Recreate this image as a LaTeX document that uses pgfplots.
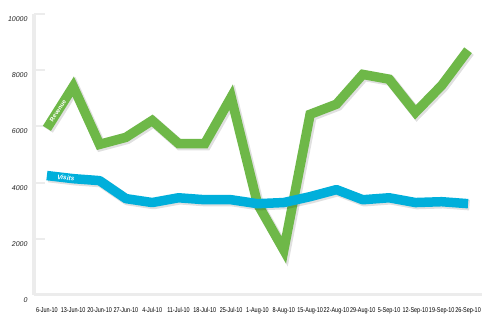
\documentclass[border=0pt]{standalone}
\usepackage{fontspec}
\setmainfont{Liberation Sans}
\newfontfamily\condfont[FakeStretch=0.78]{Liberation Sans}
\usepackage{pgfplots}
\pgfplotsset{compat=1.18}
\definecolor{revgreen}{RGB}{110,184,72}
\definecolor{visblue}{RGB}{0,175,219}
\definecolor{axgray}{RGB}{236,236,236}
\begin{document}
\begin{tikzpicture}
\useasboundingbox (0,0) rectangle (500bp,332bp);
\fill[white] (0,0) rectangle (500bp,332bp);
\begin{axis}[
  at={(34bp,37bp)}, anchor=south west,
  scale only axis, width=448bp, height=281bp,
  xmin=-0.49, xmax=16.53, ymin=0, ymax=10000,
  axis x line=bottom, axis y line=left,
  axis line style={draw=axgray, line width=3bp, -},
  xtick={0,...,16},
  minor xtick={0,...,16},
  xticklabels={6-Jun-10,13-Jun-10,20-Jun-10,27-Jun-10,4-Jul-10,11-Jul-10,18-Jul-10,25-Jul-10,1-Aug-10,8-Aug-10,15-Aug-10,22-Aug-10,29-Aug-10,5-Sep-10,12-Sep-10,19-Sep-10,26-Sep-10},
  ytick={0,2000,4000,6000,8000,10000},
  scaled y ticks=false,
  /pgf/number format/assume math mode=true,
  yticklabel={\pgfmathprintnumber[fixed,1000 sep={}]{\tick}},
  tick align=inside,
  major tick length=11bp,
  minor tick length=7bp,
  xtick style={draw=none},
  ytick style={draw=axgray, line width=2bp},
  minor tick style={draw=axgray, line width=2bp},
  yticklabel style={font=\fontsize{7bp}{8bp}\selectfont\itshape, text=black!85, anchor=east, xshift=-3bp, yshift=-5bp},
  xticklabel style={font=\fontsize{7bp}{8bp}\selectfont\condfont, text=black, anchor=north, yshift=-9bp},
  clip=false,
]
\addplot[draw=revgreen, line width=9.5bp, line join=miter, line cap=butt,
  preaction={draw=black, opacity=0.12, line width=10.5bp, transform canvas={shift={(1.5bp,-1.5bp)}}}]
  coordinates {
  (0,5930) (1,7420) (2,5360) (3,5610) (4,6210) (5,5390) (6,5390) (7,7040)
  (8,3250) (9,1600) (10,6430) (11,6790) (12,7850) (13,7680) (14,6500) (15,7460) (16,8710)
  };
\addplot[draw=visblue, line width=9.5bp, line join=round, line cap=butt,
  preaction={draw=black, opacity=0.12, line width=10.5bp, transform canvas={shift={(1.5bp,-1.5bp)}}}]
  coordinates {
  (0,4250) (1,4140) (2,4070) (3,3430) (4,3290) (5,3460) (6,3390) (7,3390)
  (8,3250) (9,3290) (10,3500) (11,3750) (12,3390) (13,3460) (14,3290) (15,3320) (16,3250)
  };
\node[text=white, rotate=57, font=\fontsize{6bp}{7bp}\selectfont\bfseries, inner sep=0pt] at (axis cs:0.42,6560) {Revenue};
\node[text=white, rotate=-6, font=\fontsize{6.5bp}{7bp}\selectfont\bfseries\itshape, inner sep=0pt] at (axis cs:0.72,4175) {Visits};
\end{axis}
\end{tikzpicture}
\end{document}
